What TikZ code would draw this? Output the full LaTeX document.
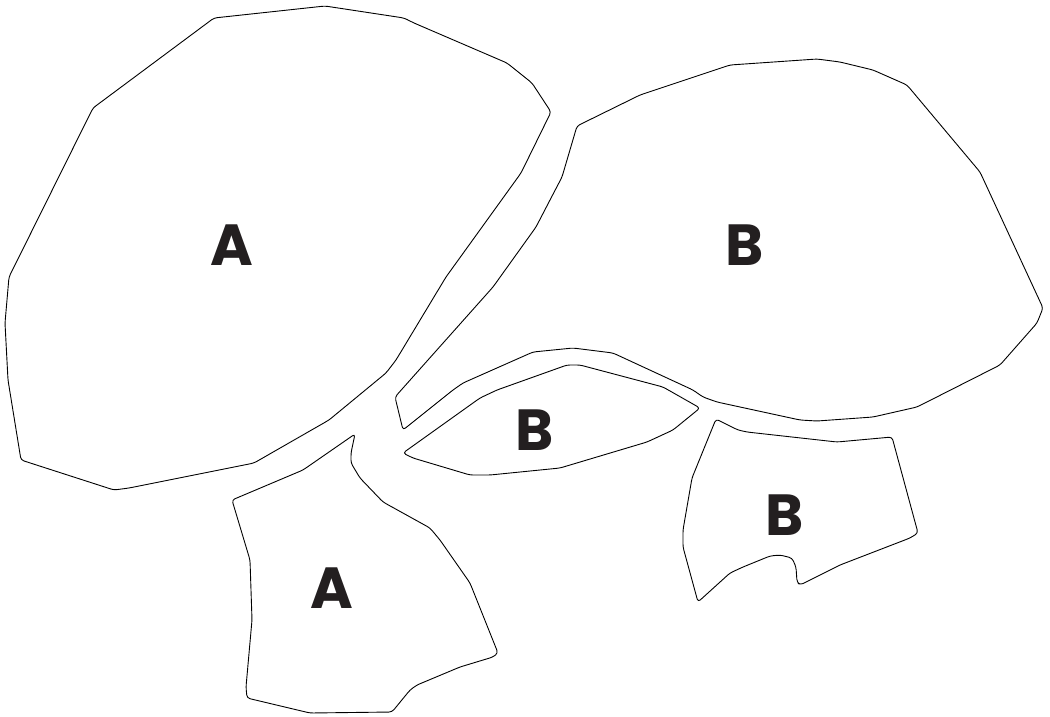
\documentclass[tikz,border=0pt]{standalone}
\usepackage{fontspec}
\newfontfamily\labelfont{Poppins}
\begin{document}
\begin{tikzpicture}[x=1pt,y=-1pt]
\tikzset{region/.style={draw=black, line width=0.9pt, line join=round, rounded corners=3pt},
  regionlabel/.style={font=\labelfont\bfseries\fontsize{58}{58}\selectfont, text=lbl, inner sep=0pt}}
\definecolor{lbl}{HTML}{231F20}
\useasboundingbox (0,0) rectangle (1050,716);
% big region A
\draw[region] (325,6) -- (404,18) -- (414,23) -- (507,63) -- (532,83) -- (551,112) -- (521,173) -- (446,277)
  -- (396,360) -- (386,373) -- (329,420) -- (254,463) -- (129,488) -- (114,490) -- (21,460) -- (8,380) -- (5,323)
  -- (9,277) -- (93,108) -- (214,18) -- cycle;
% big region B with tail
\draw[region] (577,126) -- (640,95) -- (730,65) -- (817,59) -- (840,62) -- (873,70) -- (907,85) -- (980,172)
  -- (1043,308) -- (1037,323) -- (1000,365) -- (917,407) -- (873,417) -- (817,421) -- (800,420) -- (717,402)
  -- (703,397) -- (693,390) -- (613,353) -- (573,348) -- (533,352) -- (463,383) -- (453,390) -- (403,430)
  -- (395,397) -- (493,287) -- (536,227) -- (550,200) -- (562,177) -- cycle;
% lens region B
\draw[region] (403,453) -- (413,458) -- (470,475) -- (490,475) -- (560,468) -- (647,442) -- (673,430) -- (700,408)
  -- (663,387) -- (580,365) -- (567,365) -- (497,390) -- (480,398) -- cycle;
% lower region B
\draw[region] (716,419) -- (738,430) -- (747,432) -- (837,442) -- (892,437) -- (918,533) -- (910,538) -- (840,565)
  -- (800,585) -- (797,582) -- (796,567) -- (792,558) -- (780,555) -- (770,556) -- (743,567) -- (730,573)
  -- (698,602) -- (683,547) -- (683,530) -- (692,478) -- cycle;
% lower region A
\draw[region] (355,434) -- (351,453) -- (351,463) -- (360,478) -- (383,502) -- (430,528) -- (440,540) -- (470,583)
  -- (498,653) -- (493,657) -- (460,667) -- (417,685) -- (410,690) -- (392,712) -- (310,713) -- (247,698)
  -- (246,687) -- (252,620) -- (250,560) -- (232,500) -- (303,470) -- cycle;
% labels
\node[regionlabel] (bigA) at (232,245) {A};
\node[regionlabel] (bigB) at (745,245) {B};
\node[regionlabel] (lensB) at (535,430) {B};
\node[regionlabel] (lowA) at (332,588) {A};
\node[regionlabel] (lowB) at (785,515) {B};
\end{tikzpicture}
\end{document}
